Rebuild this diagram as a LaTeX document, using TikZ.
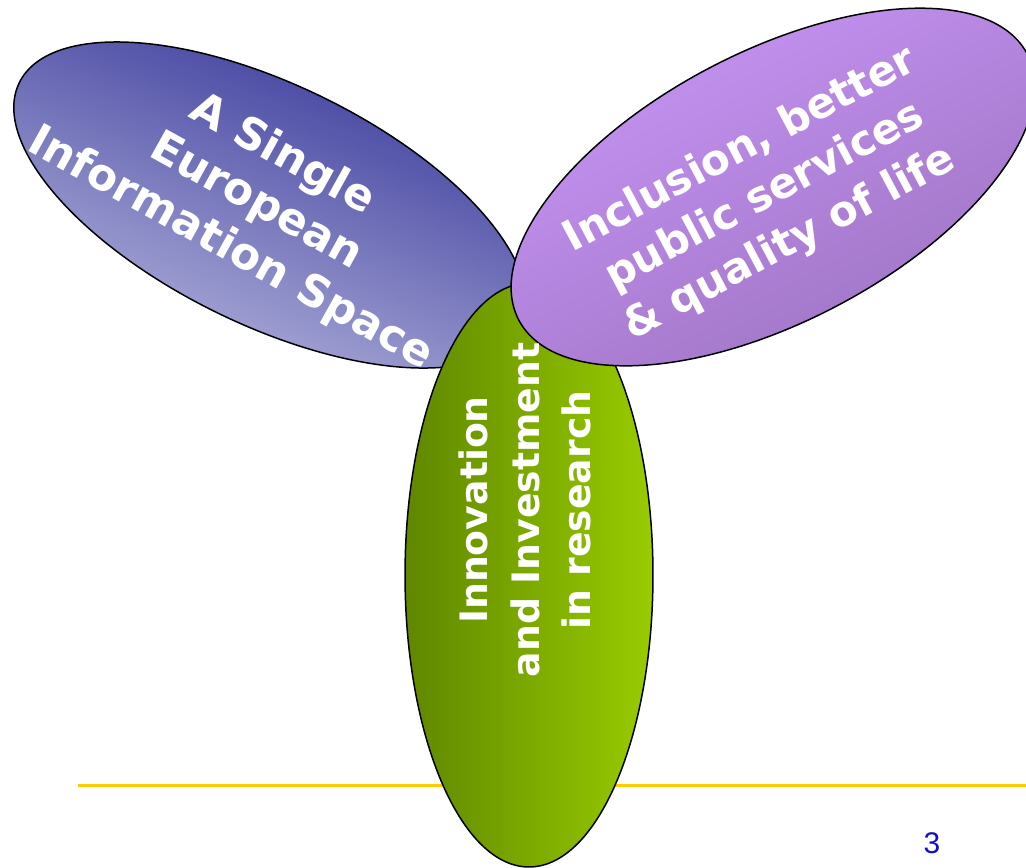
\documentclass[tikz,border=0pt]{standalone}
\usepackage{fontspec}
\setmainfont{DejaVu Sans}
\newfontfamily\pagefont{Liberation Sans}
\usetikzlibrary{shapes.geometric}
\definecolor{blueD}{HTML}{333398}
\definecolor{blueL}{HTML}{B8B8DF}
\definecolor{purL}{HTML}{C996F8}
\definecolor{purD}{HTML}{9C72C0}
\definecolor{grnD}{HTML}{5F8700}
\definecolor{grnL}{HTML}{99CC00}
\definecolor{gold}{HTML}{FFCC00}
\definecolor{pnum}{HTML}{1010C8}
\begin{document}
\begin{tikzpicture}[x=0.02cm,y=0.02cm,
  petal/.style={ellipse, draw=black, line width=0.85pt, inner sep=0pt, outer sep=0pt},
  petaltext/.style={text=white, font=\bfseries\fontsize{24}{30}\selectfont, align=center, inner sep=0pt},
  bluetextstyle/.style={text=white, font=\bfseries\fontsize{25}{30.5}\selectfont, align=center, inner sep=0pt},
  greentext/.style={text=white, font=\bfseries\fontsize{21.5}{29.5}\selectfont, align=center, inner sep=0pt}]
\useasboundingbox (0,0) rectangle (1026,-867);
\coordinate (lineL) at (78,-785);
\coordinate (lineR) at (1026,-785);
\draw[gold, line width=1.7pt] (lineL) -- (lineR);
\node[petal, minimum width=11.16cm, minimum height=4.8cm, rotate=-26,
      top color=blueD, bottom color=blueL, shading angle=-22] (blue) at (270,-205) {};
\node[petal, minimum width=4.96cm, minimum height=11.68cm,
      left color=grnD, right color=grnL] (green) at (529,-575) {};
\node[petal, minimum width=11.48cm, minimum height=5.4cm, rotate=27.6,
      top color=purL, bottom color=purD, shading angle=28] (purple) at (773,-187) {};
\node[bluetextstyle, rotate=-29] (bluetext) at (256,-202) {A Single\\European\\Information Space};
\node[greentext, rotate=90] (greentext) at (525,-510) {Innovation\\and Investment\\in research};
\node[petaltext, rotate=28] (purpletext) at (765,-197) {Inclusion, better\\public services\\\& quality of life};
\node[text=pnum, font=\pagefont\fontsize{17}{17}\selectfont, inner sep=0pt] (pg) at (932,-843) {3};
\end{tikzpicture}
\end{document}
